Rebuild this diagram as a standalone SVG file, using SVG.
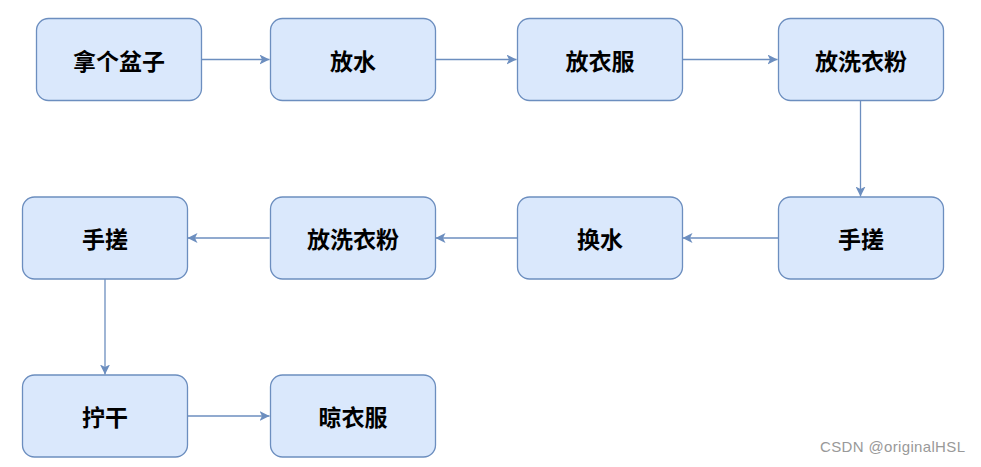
<svg xmlns="http://www.w3.org/2000/svg" width="981" height="467" viewBox="0 0 981 467">
<style>
.box{fill:#dae8fc;stroke:#6c8ebf;stroke-width:1.3}
.lbl{font-family:"Noto Sans CJK SC","Noto Sans",sans-serif;font-size:23px;font-weight:bold;fill:#000;text-anchor:middle;dominant-baseline:central}
.edge{fill:none;stroke:#6c8ebf;stroke-width:1.3}
.wm{font-family:"Liberation Sans",Arial,sans-serif;font-size:15px;fill:#999}
</style>
<defs>
<marker id="ah" viewBox="0 0 10 10" refX="10" refY="5" markerWidth="10" markerHeight="10" markerUnits="userSpaceOnUse" orient="auto">
<path d="M0,0 L10,5 L0,10 L2.5,5 Z" fill="#6c8ebf"/>
</marker>
</defs>
<rect width="981" height="467" fill="#fff"/>
<g id="connectors">
<path class="edge" d="M201.5,59.5 H269.5" marker-end="url(#ah)"/>
<path class="edge" d="M435.5,59.5 H516.5" marker-end="url(#ah)"/>
<path class="edge" d="M682.5,59.5 H777.5" marker-end="url(#ah)"/>
<path class="edge" d="M860.5,100.5 V196.5" marker-end="url(#ah)"/>
<path class="edge" d="M778.5,238 H682.5" marker-end="url(#ah)"/>
<path class="edge" d="M517.5,238 H435.5" marker-end="url(#ah)"/>
<path class="edge" d="M269.5,238 H187.5" marker-end="url(#ah)"/>
<path class="edge" d="M105,278.5 V374.5" marker-end="url(#ah)"/>
<path class="edge" d="M187.5,416 H269.5" marker-end="url(#ah)"/>
</g>
<g id="n1"><rect class="box" x="36.5" y="18.5" width="165" height="82" rx="12"/><text class="lbl" x="119" y="59.5">拿个盆子</text></g>
<g id="n2"><rect class="box" x="270.5" y="18.5" width="165" height="82" rx="12"/><text class="lbl" x="353" y="59.5">放水</text></g>
<g id="n3"><rect class="box" x="517.5" y="18.5" width="165" height="82" rx="12"/><text class="lbl" x="600" y="59.5">放衣服</text></g>
<g id="n4"><rect class="box" x="778.5" y="18.5" width="165" height="82" rx="12"/><text class="lbl" x="861" y="59.5">放洗衣粉</text></g>
<g id="n5"><rect class="box" x="778.5" y="197" width="165" height="82" rx="12"/><text class="lbl" x="861" y="238">手搓</text></g>
<g id="n6"><rect class="box" x="517.5" y="197" width="165" height="82" rx="12"/><text class="lbl" x="600" y="238">换水</text></g>
<g id="n7"><rect class="box" x="270.5" y="197" width="165" height="82" rx="12"/><text class="lbl" x="353" y="238">放洗衣粉</text></g>
<g id="n8"><rect class="box" x="22.5" y="197" width="165" height="82" rx="12"/><text class="lbl" x="105" y="238">手搓</text></g>
<g id="n9"><rect class="box" x="22.5" y="375" width="165" height="82" rx="12"/><text class="lbl" x="105" y="416">拧干</text></g>
<g id="n10"><rect class="box" x="270.5" y="375" width="165" height="82" rx="12"/><text class="lbl" x="353" y="416">晾衣服</text></g>
<text class="wm" x="820" y="452" textLength="145">CSDN @originalHSL</text>
</svg>
